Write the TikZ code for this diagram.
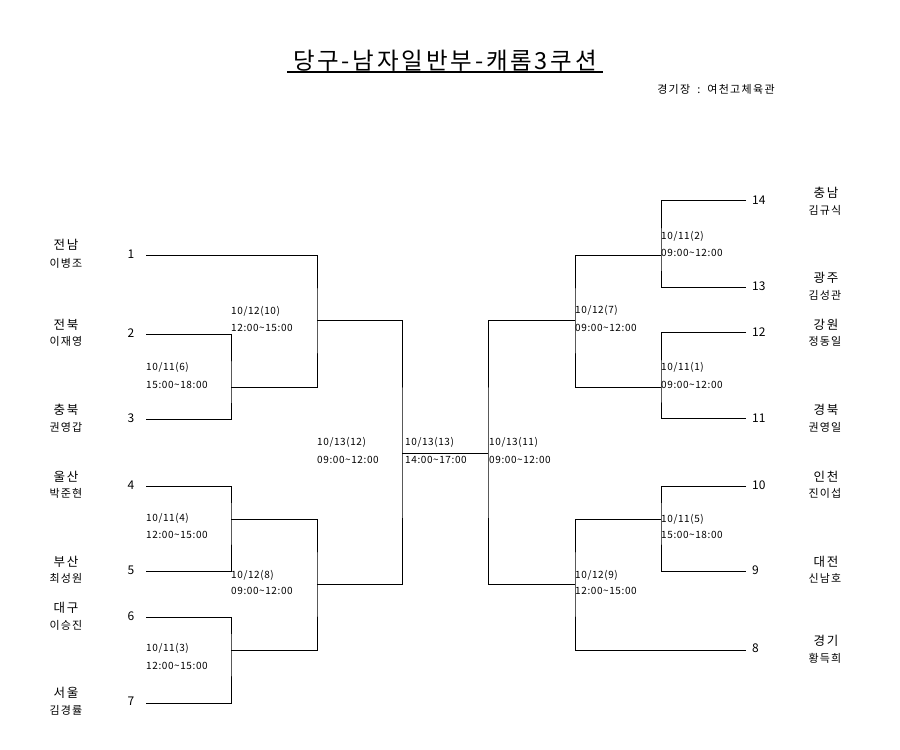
\documentclass[tikz,border=0pt]{standalone}
\usepackage{fontspec}
\setmainfont{Noto Sans CJK KR}
\newcommand\tld{\char126\relax}
\begin{document}
\begin{tikzpicture}[x=1pt,y=-1pt,
  line/.style={line width=1pt,black},
  seednum/.style={font=\fontsize{12}{14}\selectfont,inner sep=0pt},
  team/.style={font=\fontsize{12.5}{14}\selectfont\addfontfeature{LetterSpace=15},inner sep=0pt},
  player/.style={font=\fontsize{11}{12}\selectfont\addfontfeature{LetterSpace=10},inner sep=0pt},
  info/.style={font=\fontsize{10}{12}\selectfont\addfontfeature{LetterSpace=6},inner sep=0pt,anchor=west}]
\useasboundingbox (0,0) rectangle (900,750);
\fill[white] (0,0) rectangle (900,750);
% title
\node[inner sep=0pt,font=\fontsize{23.5}{26}\selectfont\addfontfeature{LetterSpace=12}] (title) at (445,61) {당구-남자일반부-캐롬3쿠션};
\coordinate (ulA) at (287,72);
\coordinate (ulB) at (603,72);
\draw[line width=1.4pt] (ulA) -- (ulB);
\node[inner sep=0pt,font=\fontsize{11}{13}\selectfont\addfontfeature{LetterSpace=12}] (venue) at (716,89) {경기장\hspace{7pt}:\hspace{7pt}여천고체육관};
% left seed numbers
\node[seednum] (n1) at (131,254) {1};
\node[seednum] (n2) at (131,333) {2};
\node[seednum] (n3) at (131,418) {3};
\node[seednum] (n4) at (131,485) {4};
\node[seednum] (n5) at (131,570) {5};
\node[seednum] (n6) at (131,616) {6};
\node[seednum] (n7) at (131,701) {7};
% right seed numbers
\node[seednum,anchor=west] (n14) at (752,200) {14};
\node[seednum,anchor=west] (n13) at (752,286) {13};
\node[seednum,anchor=west] (n12) at (752,332) {12};
\node[seednum,anchor=west] (n11) at (752,418) {11};
\node[seednum,anchor=west] (n10) at (752,485) {10};
\node[seednum,anchor=west] (n9) at (752,570) {9};
\node[seednum,anchor=west] (n8) at (752,648) {8};
% left teams
\node[team] (t1) at (66,245) {전남};   \node[player] (p1) at (66,263) {이병조};
\node[team] (t2) at (66,325) {전북};   \node[player] (p2) at (66,341) {이재영};
\node[team] (t3) at (66,410) {충북};   \node[player] (p3) at (66,427) {권영갑};
\node[team] (t4) at (66,477) {울산};   \node[player] (p4) at (66,493) {박준현};
\node[team] (t5) at (66,562) {부산};   \node[player] (p5) at (66,578) {최성원};
\node[team] (t6) at (66,608) {대구};   \node[player] (p6) at (66,625) {이승진};
\node[team] (t7) at (66,693) {서울};   \node[player] (p7) at (66,710) {김경률};
% right teams
\node[team] (t14) at (826,193) {충남};   \node[player] (p14) at (825,210) {김규식};
\node[team] (t13) at (826,278) {광주};   \node[player] (p13) at (825,295) {김성관};
\node[team] (t12) at (826,325) {강원};   \node[player] (p12) at (825,341) {정동일};
\node[team] (t11) at (826,410) {경북};   \node[player] (p11) at (825,427) {권영일};
\node[team] (t10) at (826,477) {인천};   \node[player] (p10) at (825,493) {진이섭};
\node[team] (t9) at (826,562) {대전};    \node[player] (p9) at (825,578) {신남호};
\node[team] (t8) at (826,641) {경기};    \node[player] (p8) at (825,658) {황득희};
% line endpoints
\coordinate (L1) at (146,255);
\coordinate (L2) at (146,334);
\coordinate (L3) at (146,419);
\coordinate (L4) at (146,486);
\coordinate (L5) at (146,571);
\coordinate (L6) at (146,617);
\coordinate (L7) at (146,703);
\coordinate (R14) at (746,200);
\coordinate (R13) at (746,287);
\coordinate (R12) at (746,332);
\coordinate (R11) at (746,418);
\coordinate (R10) at (746,486);
\coordinate (R9) at (746,571);
\coordinate (R8) at (746,650);
% match junctions
\coordinate (m6) at (231,387);
\coordinate (m4) at (231,519);
\coordinate (m3) at (231,650);
\coordinate (m10) at (317,320);
\coordinate (m8) at (317,584);
\coordinate (m12) at (402,453);
\coordinate (m11) at (488,453);
\coordinate (m2) at (661,255);
\coordinate (m1) at (661,387);
\coordinate (m5) at (661,519);
\coordinate (m7) at (575,320);
\coordinate (m9) at (575,584);
% bracket lines
\draw[line] (L2) -| (m6) |- (L3);
\draw[line] (L4) -| (m4) |- (L5);
\draw[line] (L6) -| (m3) |- (L7);
\draw[line] (L1) -| (m10) |- (m6);
\draw[line] (m4) -| (m8) |- (m3);
\draw[line] (m10) -| (m12) |- (m8);
\draw[line] (m12) -- (m11);
\draw[line] (R14) -| (m2) |- (R13);
\draw[line] (R12) -| (m1) |- (R11);
\draw[line] (R10) -| (m5) |- (R9);
\draw[line] (m2) -| (m7) |- (m1);
\draw[line] (m5) -| (m9) |- (R8);
\draw[line] (m7) -| (m11) |- (m9);
% match info
\node[info] (d10) at (231,311) {10/12(10)};  \node[info] (h10) at (231,328) {12:00\tld 15:00};
\node[info] (d6) at (146,367) {10/11(6)};    \node[info] (h6) at (146,385) {15:00\tld 18:00};
\node[info] (d4) at (146,518) {10/11(4)};    \node[info] (h4) at (146,535) {12:00\tld 15:00};
\node[info] (d8) at (231,575) {10/12(8)};    \node[info] (h8) at (231,591) {09:00\tld 12:00};
\node[info] (d3) at (146,648) {10/11(3)};    \node[info] (h3) at (146,666) {12:00\tld 15:00};
\node[info] (d12) at (317,442) {10/13(12)};  \node[info] (h12) at (317,460) {09:00\tld 12:00};
\node[info] (d13) at (405,442) {10/13(13)};  \node[info] (h13) at (405,460) {14:00\tld 17:00};
\node[info] (d11) at (489,442) {10/13(11)};  \node[info] (h11) at (489,460) {09:00\tld 12:00};
\node[info] (d2) at (661,236) {10/11(2)};    \node[info] (h2) at (661,253) {09:00\tld 12:00};
\node[info] (d7) at (575,310) {10/12(7)};    \node[info] (h7) at (575,328) {09:00\tld 12:00};
\node[info] (d1) at (661,367) {10/11(1)};    \node[info] (h1) at (661,385) {09:00\tld 12:00};
\node[info] (d5) at (661,519) {10/11(5)};    \node[info] (h5) at (661,535) {15:00\tld 18:00};
\node[info] (d9) at (575,575) {10/12(9)};    \node[info] (h9) at (575,591) {12:00\tld 15:00};
\end{tikzpicture}
\end{document}
